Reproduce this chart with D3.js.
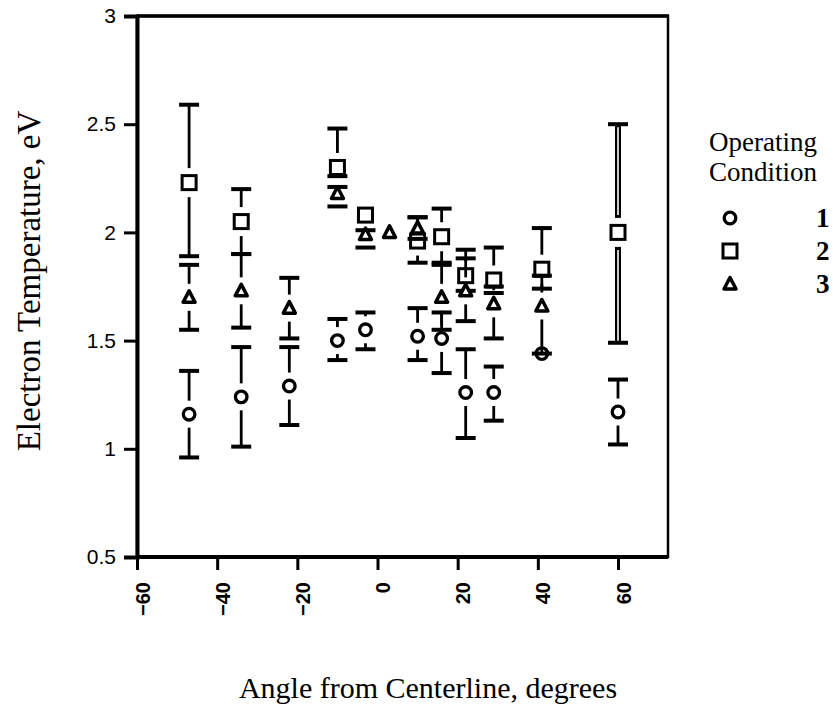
<!DOCTYPE html>
<html>
<head>
<meta charset="utf-8">
<script src="https://cdn.jsdelivr.net/npm/d3@7"></script>
<style>
  body { margin: 0; background: #fff; }
  svg { display: block; }
  .tick-label { font-family: 'Liberation Sans', Arial, sans-serif; font-size: 21px; fill: #000; }
  .title { font-family: 'Liberation Serif', 'Times New Roman', serif; fill: #000; }
  .legend-text { font-family: 'Liberation Serif', 'Times New Roman', serif; font-size: 27px; fill: #000; }
</style>
</head>
<body>
<script>
// condition 1 (circles)
var angles1 = [-47, -34, -22, -10, -3, 10, 16, 22, 29, 41, 60]
var temps1  = [1.16, 1.24, 1.29, 1.50, 1.55, 1.52, 1.51, 1.26, 1.26, 1.44, 1.17]
var hi1     = [1.36, 1.47, 1.47, 1.60, 1.63, 1.65, 1.63, 1.46, 1.38, null, 1.32]
var lo1     = [0.96, 1.01, 1.11, 1.41, 1.46, 1.41, 1.35, 1.05, 1.13, null, 1.02]

// condition 2 (squares)
var angles2 = [-47, -34, -10, -3, 10, 16, 22, 29, 41, 60]
var temps2  = [2.23, 2.05, 2.30, 2.08, 1.96, 1.98, 1.80, 1.78, 1.83, 2.00]
var hi2     = [2.59, 2.20, 2.48, null, 2.07, 2.11, 1.92, 1.93, 2.02, 2.50]
var lo2     = [1.89, 1.90, 2.26, null, 1.86, 1.85, 1.73, 1.72, 1.74, 1.49]

// condition 3 (triangles)
var angles3 = [-47, -34, -22, -10, -3, 3, 10, 16, 22, 29, 41]
var temps3  = [1.70, 1.73, 1.65, 2.18, 1.99, 2.00, 2.02, 1.70, 1.73, 1.67, 1.66]
var hi3     = [1.85, 1.90, 1.79, 2.21, 2.01, null, 2.07, 1.86, 1.88, 1.75, 1.80]
var lo3     = [1.55, 1.56, 1.51, 2.12, 1.93, null, 1.97, 1.55, 1.59, 1.51, 1.44]

var xTicks = [-60, -40, -20, 0, 20, 40, 60]
var yTicks = [0.5, 1, 1.5, 2, 2.5, 3]
var legendLabels = ['1', '2', '3']

var width = 833
var height = 708
var plot = {left: 137, right: 668, top: 16, bottom: 557}

var x = d3.scaleLinear().domain([-60, 60]).range([137, 618])
var y = d3.scaleLinear().domain([0.5, 3]).range([plot.bottom, plot.top])

var svg = d3.select('body').append('svg')
	.attr('width', width)
	.attr('height', height)

// plot frame: thin right side, heavier top
svg.append('rect')
	.attr('x', plot.left)
	.attr('y', plot.top)
	.attr('width', plot.right - plot.left)
	.attr('height', plot.bottom - plot.top)
	.attr('fill', 'none')
	.attr('stroke', '#000')
	.attr('stroke-width', 2.5)
svg.append('line')
	.attr('x1', plot.left).attr('x2', plot.right + 1)
	.attr('y1', plot.top).attr('y2', plot.top)
	.attr('stroke', '#000').attr('stroke-width', 3.5)

// y axis
var yAxis = svg.append('g')
	.attr('transform', 'translate(' + plot.left + ',0)')
	.call(d3.axisLeft(y).tickValues(yTicks).tickSize(13).tickPadding(8).tickFormat(d3.format('')))
yAxis.select('.domain').attr('stroke-width', 4)
yAxis.selectAll('.tick line').attr('stroke-width', 3)
yAxis.selectAll('.tick text').attr('class', 'tick-label').attr('font-size', null).attr('font-family', null)

// x axis
var xAxis = svg.append('g')
	.attr('transform', 'translate(0,' + plot.bottom + ')')
	.call(d3.axisBottom(x).tickValues(xTicks).tickSize(13).tickFormat(d3.format('')))
xAxis.select('.domain').attr('d', 'M' + plot.left + ',0H' + plot.right).attr('stroke-width', 4)
xAxis.selectAll('.tick line').attr('stroke-width', 3)
xAxis.selectAll('.tick text')
	.attr('class', 'tick-label')
	.attr('font-size', null).attr('font-family', null)
	.style('font-weight', 'bold')
	.style('font-size', '20px')
	.attr('transform', 'rotate(-90)')
	.attr('text-anchor', 'end')
	.attr('x', -25)
	.attr('y', 0)
	.attr('dy', '0.6em')

// axis titles
svg.append('text')
	.attr('class', 'title')
	.style('font-size', '33px')
	.attr('transform', 'translate(40,' + 281 + ')rotate(-90)')
	.attr('text-anchor', 'middle')
	.text('Electron Temperature, eV')

svg.append('text')
	.attr('class', 'title')
	.style('font-size', '30px')
	.attr('x', 428)
	.attr('y', 698)
	.attr('text-anchor', 'middle')
	.text('Angle from Centerline, degrees')

// marker shapes
var half = {circle: 7.5, square: 8.5, triangle: 7.5}

function drawMarker(g, kind, cx, cy) {
	if (kind === 'circle') {
		g.append('circle').attr('cx', cx).attr('cy', cy).attr('r', 5.8)
			.attr('fill', '#fff').attr('stroke', '#000').attr('stroke-width', 3.3)
	} else if (kind === 'square') {
		g.append('rect').attr('x', cx - 7).attr('y', cy - 7).attr('width', 14).attr('height', 14)
			.attr('fill', '#fff').attr('stroke', '#000').attr('stroke-width', 3)
	} else {
		g.append('path')
			.attr('d', 'M' + cx + ',' + (cy - 6.5) + 'L' + (cx + 6) + ',' + (cy + 5) + 'L' + (cx - 6) + ',' + (cy + 5) + 'Z')
			.attr('fill', '#fff').attr('stroke', '#000').attr('stroke-width', 3.5).attr('stroke-linejoin', 'round')
	}
}

// one stem of an error bar, stopped short of the marker
function stem(g, cx, y1, y2, hollow) {
	if (Math.abs(y2 - y1) < 1) return
	g.append('line')
		.attr('x1', cx).attr('x2', cx).attr('y1', y1).attr('y2', y2)
		.attr('stroke', '#000').attr('stroke-width', hollow ? 6 : 2.8)
	if (hollow) {
		g.append('line')
			.attr('x1', cx).attr('x2', cx).attr('y1', y1 + 3).attr('y2', y2 - 3 * Math.sign(y2 - y1))
			.attr('stroke', '#fff').attr('stroke-width', 1.6)
	}
}

function drawSeries(angles, temps, hi, lo, kind, hollowAt) {
	var g = svg.append('g')
	var gap = 6
	angles.forEach(function(a, i) {
		if (hi[i] == null) return
		var cx = x(a), cy = y(temps[i])
		var hollow = a === hollowAt
		var topEnd = Math.max(y(hi[i]), cy - half[kind] - gap)
		var botEnd = Math.min(y(lo[i]), cy + half[kind] + gap)
		if (topEnd > y(hi[i])) stem(g, cx, y(hi[i]), topEnd, hollow)
		if (botEnd < y(lo[i])) stem(g, cx, y(lo[i]), botEnd, hollow)
		;[hi[i], lo[i]].forEach(function(v) {
			g.append('line')
				.attr('x1', cx - 10).attr('x2', cx + 10)
				.attr('y1', y(v)).attr('y2', y(v))
				.attr('stroke', '#000').attr('stroke-width', 4)
		})
	})
	angles.forEach(function(a, i) {
		drawMarker(g, kind, x(a), y(temps[i]))
	})
}

drawSeries(angles1, temps1, hi1, lo1, 'circle', null)
drawSeries(angles2, temps2, hi2, lo2, 'square', 60)
drawSeries(angles3, temps3, hi3, lo3, 'triangle', null)

// legend
var legend = svg.append('g')
legend.append('text').attr('class', 'legend-text').attr('x', 709).attr('y', 151).text('Operating')
legend.append('text').attr('class', 'legend-text').attr('x', 709).attr('y', 181).text('Condition')
var kinds = ['circle', 'square', 'triangle']
legendLabels.forEach(function(lab, i) {
	var ly = 218 + i * 33
	drawMarker(legend, kinds[i], 730, ly)
	legend.append('text').attr('class', 'legend-text')
		.attr('x', 816).attr('y', ly + 9).style('font-weight', 'bold').text(lab)
})
</script>
</body>
</html>
